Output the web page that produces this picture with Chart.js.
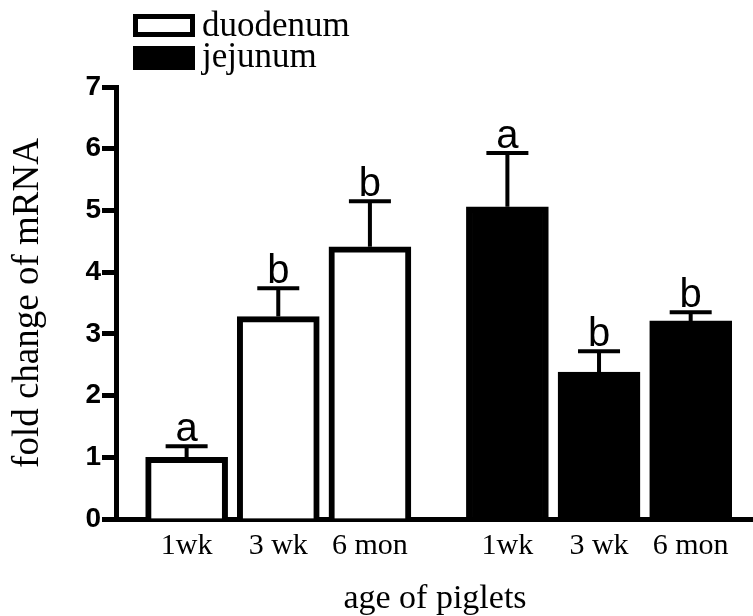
<!DOCTYPE html>
<html>
<head>
<meta charset="utf-8">
<script src="https://cdn.jsdelivr.net/npm/chart.js@4"></script>
<style>
  body { margin: 0; background: #fff; }
  #contenedor { width: 753px; height: 616px; }
</style>
</head>
<body>
<div id="contenedor"><canvas id="grafico"></canvas></div>
<script>
// datos
const edades = ['1wk', '3 wk', '6 mon', '1wk', '3 wk', '6 mon'];
const posDuodeno = [0, 1, 2];
const posYeyuno = [3.5, 4.5, 5.5];
const duodeno = [1.0, 3.28, 4.41];
const duodenoErr = [0.18, 0.46, 0.74];
const yeyuno = [5.06, 2.38, 3.21];
const yeyunoErr = [0.87, 0.34, 0.14];
const letrasDuodeno = ['a', 'b', 'b'];
const letrasYeyuno = ['a', 'b', 'b'];
const ticksY = [0, 1, 2, 3, 4, 5, 6, 7];

const serif = '"Liberation Serif", "Times New Roman", serif';
const sans = '"Liberation Sans", Arial, sans-serif';

let chart;

// barras de error, letras y leyenda
const extras = {
    id: 'extras',
    afterDatasetsDraw(chart) {
        const { ctx, scales: { x, y } } = chart;
        ctx.save();
        ctx.strokeStyle = '#000';
        ctx.fillStyle = '#000';

        const dibujarError = (pos, val, err, letra) => {
            const px = x.getPixelForValue(pos);
            const py = y.getPixelForValue(val);
            const pe = y.getPixelForValue(val + err);
            ctx.lineWidth = 4;
            ctx.beginPath();
            ctx.moveTo(px, py);
            ctx.lineTo(px, pe);
            ctx.moveTo(px - 21, pe);
            ctx.lineTo(px + 21, pe);
            ctx.stroke();
            ctx.font = '40px ' + sans;
            ctx.textAlign = 'center';
            ctx.textBaseline = 'alphabetic';
            ctx.fillText(letra, px, pe - 5);
        };
        posDuodeno.forEach((p, i) => dibujarError(p, duodeno[i], duodenoErr[i], letrasDuodeno[i]));
        posYeyuno.forEach((p, i) => dibujarError(p, yeyuno[i], yeyunoErr[i], letrasYeyuno[i]));

        // leyenda
        ctx.lineWidth = 5;
        ctx.strokeRect(135.5, 16.5, 57, 18);
        ctx.fillRect(133, 46, 62, 24);
        ctx.font = '35px ' + serif;
        ctx.textAlign = 'left';
        ctx.fillText('duodenum', 202, 36);
        ctx.fillText('jejunum', 202, 67);
        ctx.restore();
    }
};

function graficar() {
    const ctx = document.getElementById('grafico').getContext('2d');
    chart = new Chart(ctx, {
        type: 'bar',
        data: {
            datasets: [{
                label: 'duodenum',
                data: posDuodeno.map((p, i) => ({ x: p, y: duodeno[i] })),
                backgroundColor: '#fff',
                borderColor: '#000',
                borderWidth: 6
            }, {
                label: 'jejunum',
                data: posYeyuno.map((p, i) => ({ x: p, y: yeyuno[i] })),
                backgroundColor: '#000',
                borderColor: '#000',
                borderWidth: 6
            }]
        },
        options: {
            responsive: true,
            maintainAspectRatio: false,
            animation: false,
            devicePixelRatio: 1,
            grouped: false,
            barThickness: 82,
            layout: { padding: { top: 87, left: 0, right: 0, bottom: 0 } },
            plugins: {
                legend: { display: false },
                tooltip: { enabled: false }
            },
            scales: {
                x: {
                    type: 'linear',
                    offset: false,
                    min: -0.76,
                    max: 6.18,
                    afterBuildTicks: (scale) => {
                        scale.ticks = posDuodeno.concat(posYeyuno).map(v => ({ value: v }));
                    },
                    grid: { display: false, drawTicks: false },
                    border: { color: '#000', width: 5 },
                    ticks: {
                        color: '#000',
                        font: { family: serif, size: 30, lineHeight: 1.0 },
                        padding: 12,
                        maxRotation: 0,
                        autoSkip: false,
                        callback: (v, i) => edades[i]
                    },
                    title: {
                        display: true,
                        text: 'age of piglets',
                        color: '#000',
                        font: { family: serif, size: 34, lineHeight: 1.0 },
                        padding: { top: 9, bottom: 0 }
                    }
                },
                y: {
                    min: 0,
                    max: 7,
                    afterBuildTicks: (scale) => {
                        scale.ticks = ticksY.map(v => ({ value: v }));
                    },
                    grid: {
                        drawOnChartArea: false,
                        drawTicks: true,
                        tickLength: 15,
                        tickWidth: 5,
                        tickColor: '#000'
                    },
                    border: { color: '#000', width: 5 },
                    ticks: {
                        color: '#000',
                        font: { family: sans, size: 28, weight: 'bold' },
                        padding: 1
                    },
                    title: {
                        display: true,
                        text: 'fold change of mRNA',
                        color: '#000',
                        font: { family: serif, size: 37 },
                        padding: { top: 6, bottom: 34 }
                    }
                }
            }
        },
        plugins: [extras]
    });
}

graficar();
</script>
</body>
</html>
